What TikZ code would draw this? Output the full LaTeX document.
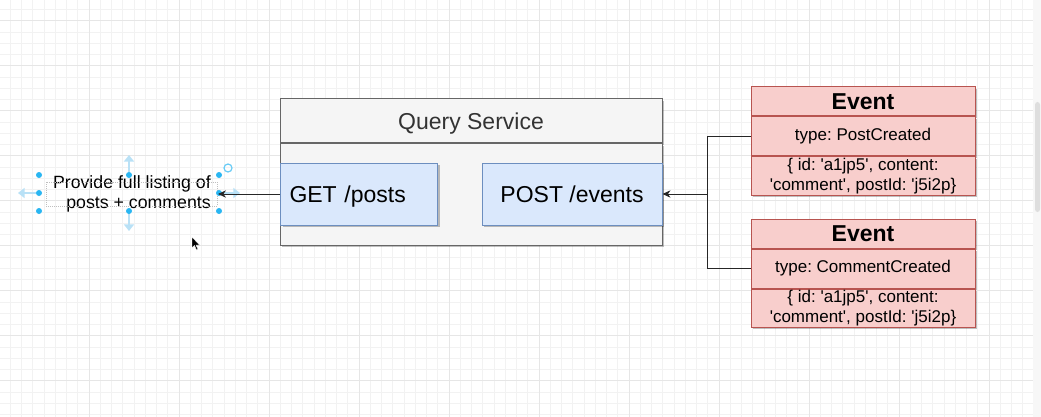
\documentclass[tikz,border=0pt]{standalone}
\usepackage{fontspec}
\setmainfont{Liberation Sans}
\usetikzlibrary{positioning,arrows.meta,shadows}

\definecolor{gridminor}{HTML}{F2F2F2}
\definecolor{gridmajor}{HTML}{E6E6E6}
\definecolor{qsfill}{HTML}{F5F5F5}
\definecolor{qsedge}{HTML}{666666}
\definecolor{qstext}{HTML}{333333}
\definecolor{bluefill}{HTML}{DAE8FC}
\definecolor{blueedge}{HTML}{6C8EBF}
\definecolor{redfill}{HTML}{F8CECC}
\definecolor{rededge}{HTML}{B85450}
\definecolor{handleblue}{HTML}{29B6F2}
\definecolor{pullblue}{HTML}{B9E1F6}
\definecolor{barfill}{HTML}{DEDEDE}

\newcommand{\bigtxt}{\fontsize{17.25pt}{20pt}\selectfont}
\newcommand{\smalltxt}{\fontsize{12.75pt}{15pt}\selectfont}
\newcommand{\qt}{\textquotesingle}
\frenchspacing

\begin{document}
\begin{tikzpicture}[x=0.75pt, y=-0.75pt,
		minorline/.style={draw=gridminor, line width=0.6pt},
		majorline/.style={draw=gridmajor, line width=0.6pt},
		shade box/.style={drop shadow={shadow xshift=1.8pt, shadow yshift=-1.8pt, opacity=0.25, fill=black}},
		qsbox/.style={draw=qsedge, fill=qsfill, line width=0.75pt, inner sep=0pt, minimum width=286.5pt, shade box},
		endpoint/.style={draw=blueedge, fill=bluefill, line width=0.75pt, inner sep=0pt, minimum height=46.5pt, text depth=0pt, font=\bigtxt, shade box},
		evpart/.style={draw=rededge, fill=redfill, line width=0.75pt, inner sep=0pt, minimum width=168pt, align=center, shade box},
		conn/.style={draw=black!85, line width=0.75pt},
		handle/.style={circle, fill=handleblue, inner sep=0pt, minimum size=4.5pt},
		pull/.style={draw=pullblue, line width=2.2pt, -{Triangle[length=5pt,width=7.5pt]}}
	]
	\useasboundingbox (0,0) rectangle (1041,417);

	% canvas grid
	\fill[white] (0,0) rectangle (1041,417);
	\begin{scope}
		\clip (0,0) rectangle (1033,417);
		\foreach \i in {0,...,92} \draw[minorline] ({-1+\i*11.25},0) -- ++(0,417);
		\foreach \j in {0,...,37} \draw[minorline] (0,{-1.8+\j*11.25}) -- ++(1033,0);
		\foreach \i in {0,...,11} \draw[majorline] ({-1+\i*90},0) -- ++(0,417);
		\foreach \j in {0,...,9} \draw[majorline] (0,{20.7+\j*45}) -- ++(1033,0);
	\end{scope}
	\fill[gridminor!60] (1033,0) rectangle (1041,417);
	\fill[barfill, rounded corners=2pt] (1035,102) rectangle (1040,212);

	% query service
	\node[qsbox, minimum height=33pt, font=\bigtxt, text=qstext, text depth=0pt] (qshead) at (471,121) {Query Service};
	\node[qsbox, minimum height=75.75pt, below=0pt of qshead] (qsbody) {};
	\node[endpoint, minimum width=117.75pt, anchor=west, inner xsep=6.75pt, text width=104.25pt, align=left] (get) at (280,194) {GET /posts};
	\node[endpoint, minimum width=135pt, anchor=east] (post) at (qsbody.east |- get.east) {POST /events};

	% events
	\node[evpart, minimum height=21.75pt, font=\bigtxt\bfseries] (ev1head) at (863,101.5) {Event};
	\node[evpart, minimum height=29.25pt, font=\smalltxt, below=0pt of ev1head] (ev1type) {type: PostCreated};
	\node[evpart, minimum height=28.5pt, font=\smalltxt, below=0pt of ev1type] (ev1data) {\{ id: \qt a1jp5\qt, content:\\\qt comment\qt, postId: \qt j5i2p\}};

	\node[evpart, minimum height=21.75pt, font=\bigtxt\bfseries] (ev2head) at (863,233.5) {Event};
	\node[evpart, minimum height=29.25pt, font=\smalltxt, below=0pt of ev2head] (ev2type) {type: CommentCreated};
	\node[evpart, minimum height=28.5pt, font=\smalltxt, below=0pt of ev2type] (ev2data) {\{ id: \qt a1jp5\qt, content:\\\qt comment\qt, postId: \qt j5i2p\}};

	\coordinate[right=33.75pt of post.east] (bus);
	\draw[conn] (ev1type.west) -| (bus);
	\draw[conn] (ev2type.west) -| (bus);
	\draw[conn, -{Stealth[length=6pt,width=5.5pt]}] (bus) -- (post.east);

	% selected note with its handles
	\node[anchor=east, inner xsep=5.25pt, inner ysep=0pt, align=right, font=\fontsize{13.3pt}{15pt}\selectfont] (note) at (218,194) {Provide full listing of\\posts + comments};
	\draw[gray!50, densely dotted, line width=0.5pt] (46,182) rectangle (217,206);
	\draw[pull] (36,193) -- (18,193);
	\draw[pull] (129,172) -- (129,155);
	\draw[pull] (129,213) -- (129,231);
	\draw[pull] (222,193) -- (240,193);
	\foreach \hx/\hy in {39/175, 39/193, 39/211, 129/175, 129/211, 219/175, 219/193, 219/211}
		\node[handle] at (\hx,\hy) {};
	\draw[handleblue!70, line width=0.9pt] (228,168) circle[radius=3pt];
	\draw[conn, -{Stealth[length=6pt,width=5.5pt]}] (get.west) -- (note.east);

	% mouse pointer
	\draw[white, fill=black, line width=0.3pt] (192,237) -- (192,248) -- (194.5,245.5) -- (196.5,250) -- (198,249.3) -- (196,245) -- (199.5,245) -- cycle;
\end{tikzpicture}
\end{document}
